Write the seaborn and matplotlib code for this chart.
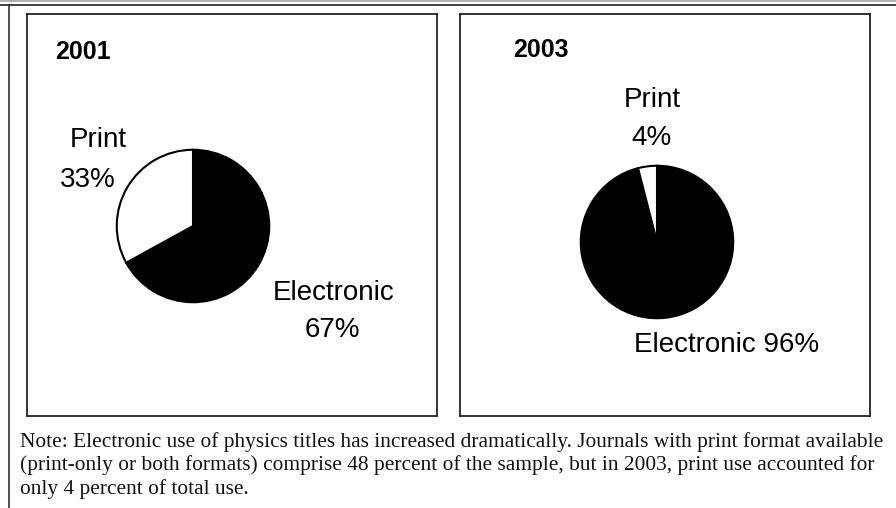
import matplotlib
matplotlib.use("Agg")
import matplotlib.pyplot as plt
import seaborn as sns
from matplotlib.lines import Line2D

sns.set_theme(style="white")
plt.rcParams["font.family"] = ["Liberation Sans", "DejaVu Sans"]

# data
years = ["2001", "2003"]
formats = ["Electronic", "Print"]
share_2001 = [67, 33]
share_2003 = [96, 4]
slice_colors = ["#000000", "#ffffff"]

note_lines = [
    "Note: Electronic use of physics titles has increased dramatically. Journals with print format available",
    "(print-only or both formats) comprise 48 percent of the sample, but in 2003, print use accounted for",
    "only 4 percent of total use.",
]

W, H = 896, 508
fig = plt.figure(figsize=(W / 100, H / 100), dpi=100)
fig.patch.set_facecolor("white")


def box(x0, y0, x1, y1):
    # pixel box (top-left origin) -> figure fraction rect
    return [x0 / W, (H - y1) / H, (x1 - x0) / W, (y1 - y0) / H]


# outer rules
fig.add_artist(Line2D([0, 1], [1 - 1 / H, 1 - 1 / H], color="#a0a0a0", lw=1.2))
fig.add_artist(Line2D([0, 1], [1 - 4.5 / H, 1 - 4.5 / H], color="#333333", lw=1.3))
fig.add_artist(Line2D([9 / W, 9 / W], [0, 1 - 4.5 / H], color="#333333", lw=1.2))

panels = [
    dict(frame=(27, 14, 437, 416), pie=(193, 226, 77), year_xy=(55, 52), values=share_2001),
    dict(frame=(460, 14, 870, 416), pie=(657, 242, 77), year_xy=(513, 50), values=share_2003),
]

for p, year in zip(panels, years):
    fax = fig.add_axes(box(*p["frame"]))
    fax.set_xticks([])
    fax.set_yticks([])
    for s in fax.spines.values():
        s.set_visible(True)
        s.set_color("#222222")
        s.set_linewidth(1.3)
    fax.set_facecolor("white")

    cx, cy, r = p["pie"]
    pax = fig.add_axes(box(cx - r, cy - r, cx + r, cy + r))
    pax.pie(p["values"], colors=slice_colors, startangle=90, counterclock=False,
            wedgeprops=dict(edgecolor="#000000", linewidth=1.5))
    pax.set_xlim(-1.01, 1.01)
    pax.set_ylim(-1.01, 1.01)
    pax.axis("off")

    fig.text(p["year_xy"][0] / W, 1 - p["year_xy"][1] / H, year,
             fontsize=18, fontweight="bold", ha="left", va="center", color="black")

lab = dict(fontsize=20, color="black", va="center")
fig.text(98 / W, 1 - 140 / H, formats[1], ha="center", **lab)
fig.text(88 / W, 1 - 180 / H, f"{share_2001[1]}%", ha="center", **lab)
fig.text(334 / W, 1 - 293 / H, formats[0], ha="center", **lab)
fig.text(332 / W, 1 - 330 / H, f"{share_2001[0]}%", ha="center", **lab)

fig.text(652 / W, 1 - 100 / H, formats[1], ha="center", **lab)
fig.text(652 / W, 1 - 138 / H, f"{share_2003[1]}%", ha="center", **lab)
fig.text(634 / W, 1 - 345 / H, f"{formats[0]} {share_2003[0]}%", ha="left", **lab)

for i, line in enumerate(note_lines):
    fig.text(20 / W, 1 - (442 + i * 23.5) / H, line, family=["Liberation Serif", "DejaVu Serif"],
             fontsize=15.4, ha="left", va="center", color="#111111")

fig.savefig("out.png", dpi=100)
